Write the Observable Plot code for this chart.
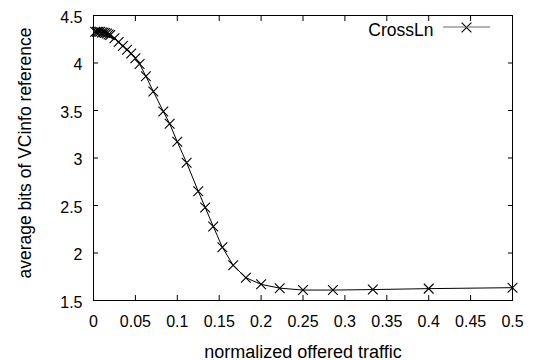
<!DOCTYPE html>
<html><head><meta charset="utf-8">
<script src="https://cdn.jsdelivr.net/npm/d3@7"></script>
<script src="https://cdn.jsdelivr.net/npm/@observablehq/plot@0.6"></script>
<style>body{margin:0;background:#fff} svg{display:block}</style>
</head><body><div id="chart"></div>
<script>
const traffic = [0.002,0.004,0.006,0.008,0.010,0.012,0.014,0.016,0.018,0.020,0.025,0.030,0.035,0.040,0.045,0.050,0.055,0.0625,0.0714,0.0833,0.0909,0.1,0.1111,0.125,0.1333,0.1429,0.1538,0.1667,0.1818,0.2,0.2222,0.25,0.2857,0.3333,0.4,0.5];
const bits = [4.33,4.33,4.33,4.33,4.32,4.32,4.315,4.31,4.30,4.295,4.26,4.22,4.18,4.14,4.10,4.05,3.99,3.86,3.70,3.49,3.36,3.17,2.95,2.65,2.48,2.28,2.06,1.87,1.74,1.67,1.63,1.61,1.61,1.615,1.625,1.635];
const xTicks = [0,0.05,0.1,0.15,0.2,0.25,0.3,0.35,0.4,0.45,0.5];
const yTicks = [1.5,2,2.5,3,3.5,4,4.5];
const seriesName = "CrossLn";
const xLabel = "normalized offered traffic";
const yLabel = "average bits of VCinfo reference";

const data = traffic.map((x, i) => ({x, y: bits[i]}));
const font = "'Liberation Sans', Arial, Helvetica, sans-serif";
const fmt = d => String(d);

const chart = Plot.plot({
  width: 538, height: 360,
  marginLeft: 93, marginRight: 26, marginTop: 15, marginBottom: 60,
  style: {fontFamily: font, fontSize: "16px", color: "black", background: "white"},
  x: {domain: [0, 0.5]},
  y: {domain: [1.5, 4.5]},
  marks: [
    Plot.axisX(xTicks, {anchor: "bottom", tickSize: -5, tickFormat: () => "", label: null}),
    Plot.axisX(xTicks, {anchor: "top", tickSize: -5, tickFormat: () => "", label: null}),
    Plot.axisY(yTicks, {anchor: "left", tickSize: -5, tickFormat: () => "", label: null}),
    Plot.axisY(yTicks, {anchor: "right", tickSize: -5, tickFormat: () => "", label: null}),
    Plot.axisX(xTicks, {anchor: "bottom", tickSize: 0, tickPadding: 15, tickFormat: fmt, label: null, fontSize: 16}),
    Plot.axisY(yTicks, {anchor: "left", tickSize: 0, tickPadding: 11, tickFormat: fmt, label: null, fontSize: 16, dy: 2}),
    Plot.frame({stroke: "black", strokeWidth: 1}),
    Plot.line(data, {x: "x", y: "y", stroke: "black", strokeWidth: 1}),
    Plot.dot(data, {x: "x", y: "y", symbol: "times", r: 4.5, stroke: "black", strokeWidth: 1.1}),
    Plot.text([xLabel], {frameAnchor: "bottom", dy: 57, lineAnchor: "bottom", fontSize: 18, text: d => d}),
    Plot.text([yLabel], {frameAnchor: "left", rotate: -90, dx: -68, dy: -5, textAnchor: "middle", lineAnchor: "middle", fontSize: 17.5, text: d => d}),
    Plot.text([seriesName], {frameAnchor: "top-right", dx: -79, dy: 14.5, textAnchor: "end", lineAnchor: "middle", fontSize: 17.5, text: d => d}),
    Plot.dot([seriesName], {frameAnchor: "top-right", dx: -46, dy: 12, symbol: "times", r: 4.5, stroke: "black", strokeWidth: 1.1})
  ]
});

// legend sample line
const svg = d3.select(chart);
svg.append("line")
  .attr("x1", 538 - 26 - 69).attr("x2", 538 - 26 - 22)
  .attr("y1", 15 + 12).attr("y2", 15 + 12)
  .attr("stroke", "#666").attr("stroke-width", 1);

document.getElementById("chart").appendChild(chart);
</script>
</body></html>
